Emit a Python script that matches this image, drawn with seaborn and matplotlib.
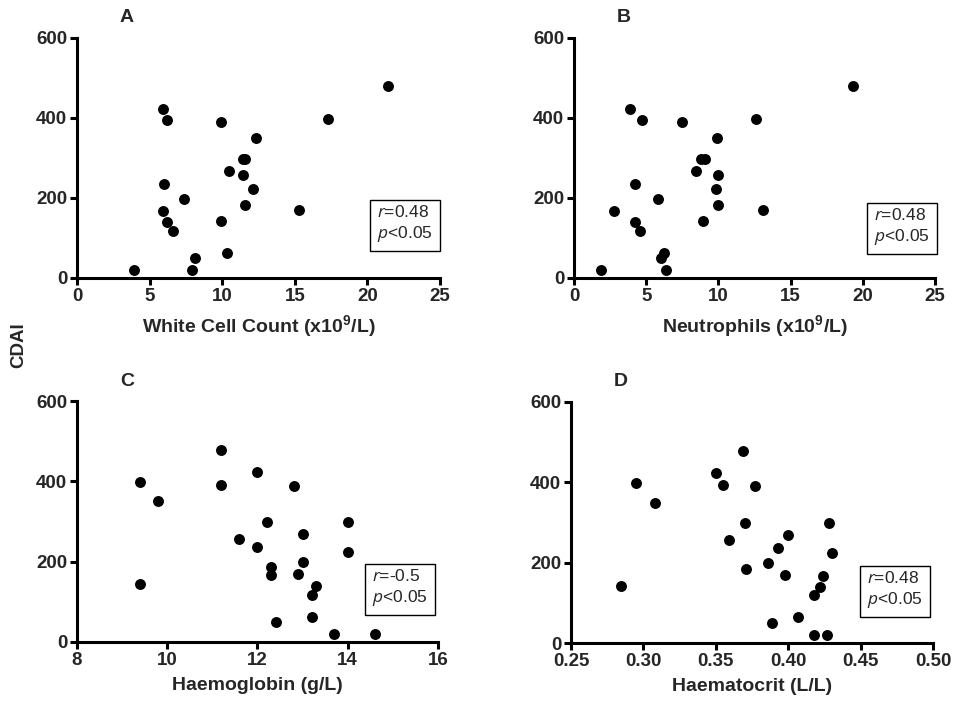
import matplotlib
matplotlib.use("Agg")
import matplotlib.pyplot as plt
import seaborn as sns
import pandas as pd

# values
wcc = [3.9, 5.9, 6.2, 9.95, 17.3, 21.4, 12.3, 11.4, 11.6, 10.5, 11.4, 12.1,
       6.0, 7.4, 11.6, 5.9, 15.3, 6.2, 9.9, 6.6, 10.3, 8.1, 7.9]
cdai_a = [19, 423, 394, 390, 398, 480, 350, 298, 298, 268, 257, 222,
          236, 198, 183, 168, 169, 139, 142, 117, 62, 51, 19]

neut = [1.87, 3.9, 4.7, 7.5, 12.6, 19.3, 9.9, 8.8, 9.1, 8.45, 10.0, 9.8,
        4.2, 5.8, 10.0, 2.8, 13.1, 4.2, 8.9, 4.6, 6.2, 6.05, 6.4]
cdai_b = [19, 423, 394, 391, 398, 480, 350, 298, 298, 268, 257, 222,
          236, 198, 183, 168, 169, 139, 142, 117, 62, 51, 19]

hb = [9.4, 9.8, 9.4, 11.2, 11.2, 12.0, 12.8, 11.6, 12.0, 12.2, 12.3, 12.3,
      12.4, 12.9, 13.0, 13.0, 13.3, 13.2, 13.2, 13.7, 14.0, 14.0, 14.6]
cdai_c = [398, 350, 144, 479, 392, 423, 388, 256, 237, 299, 186, 168,
          51, 169, 268, 198, 139, 118, 63, 19, 299, 223, 19]

hct = [0.2845, 0.295, 0.308, 0.350, 0.3548, 0.369, 0.377, 0.370, 0.359, 0.371,
       0.386, 0.393, 0.400, 0.398, 0.389, 0.407, 0.418, 0.422, 0.424, 0.428,
       0.430, 0.418, 0.427]
cdai_d = [143, 398, 349, 423, 393, 479, 390, 299, 257, 184,
          198, 237, 268, 169, 51, 64, 119, 139, 168, 299,
          223, 19, 19]

panel_letters = ["A", "B", "C", "D"]
xlabels = [r"White Cell Count (x10$^{\mathbf{9}}$/L)",
           r"Neutrophils (x10$^{\mathbf{9}}$/L)",
           "Haemoglobin (g/L)",
           "Haematocrit (L/L)"]
stats_text = [r"$\it{r}$=0.48" + "\n" + r"$\it{p}$<0.05",
              r"$\it{r}$=0.48" + "\n" + r"$\it{p}$<0.05",
              r"$\it{r}$=-0.5" + "\n" + r"$\it{p}$<0.05",
              r"$\it{r}$=0.48" + "\n" + r"$\it{p}$<0.05"]
xticks_list = [[0, 5, 10, 15, 20, 25], [0, 5, 10, 15, 20, 25],
               [8, 10, 12, 14, 16], [0.25, 0.30, 0.35, 0.40, 0.45, 0.50]]
xticklabels_list = [["0", "5", "10", "15", "20", "25"],
                    ["0", "5", "10", "15", "20", "25"],
                    ["8", "10", "12", "14", "16"],
                    ["0.25", "0.30", "0.35", "0.40", "0.45", "0.50"]]
yticks = [0, 200, 400, 600]

sns.set_style("ticks")
plt.rcParams["font.family"] = ["Liberation Sans", "DejaVu Sans"]
plt.rcParams["mathtext.fontset"] = "custom"
plt.rcParams["mathtext.rm"] = "Open Sans"
plt.rcParams["mathtext.it"] = "Open Sans:italic"
plt.rcParams["mathtext.bf"] = "Liberation Sans:bold"

fig = plt.figure(figsize=(9.54, 7.06), dpi=100)
W, H = 954, 706
rects = [(77, 440, 38, 278), (574, 935, 38, 278),
         (77, 438, 401, 642), (571, 933, 402, 643)]
datasets = [(wcc, cdai_a), (neut, cdai_b), (hb, cdai_c), (hct, cdai_d)]
box_pos = [(405, 224), (902, 227), (400, 588), (895, 590)]

for i, ((l, r, t, b), (xs, ys)) in enumerate(zip(rects, datasets)):
    ax = fig.add_axes([l / W, 1 - b / H, (r - l) / W, (b - t) / H])
    df = pd.DataFrame({"x": xs, "y": ys})
    sns.scatterplot(data=df, x="x", y="y", ax=ax, color="black", s=62,
                    edgecolor="black", linewidth=0, clip_on=False, zorder=5)
    xt = xticks_list[i]
    ax.set_xlim(xt[0], xt[-1])
    ax.set_ylim(0, 600)
    ax.set_xticks(xt)
    ax.set_xticklabels(xticklabels_list[i], fontweight="bold", fontsize=13.5)
    ax.set_yticks(yticks)
    ax.set_yticklabels([str(v) for v in yticks], fontweight="bold", fontsize=13.5)
    for s in ["top", "right"]:
        ax.spines[s].set_visible(False)
    for s in ["left", "bottom"]:
        ax.spines[s].set_linewidth(2.2)
        ax.spines[s].set_color("black")
    ax.tick_params(axis="both", direction="out", length=5, width=2.2,
                   color="black", pad=2)
    ax.set_xlabel(xlabels[i], fontweight="bold", fontsize=14, labelpad=6)
    ax.set_ylabel("")
    fig.text((l + 50) / W, 1 - (t - 20) / H, panel_letters[i],
             fontweight="bold", fontsize=14, ha="center", va="center")
    bx, by = box_pos[i]
    fig.text(bx / W, 1 - by / H, stats_text[i], fontsize=12.5,
             ha="center", va="center", multialignment="left", linespacing=1.35,
             bbox=dict(boxstyle="square,pad=0.4", fc="white", ec="black", lw=1.0))

fig.text(19 / W, 1 - 345 / H, "CDAI", rotation=90, fontweight="bold",
         fontsize=13.5, ha="center", va="center")

fig.savefig("out.png", dpi=100)
